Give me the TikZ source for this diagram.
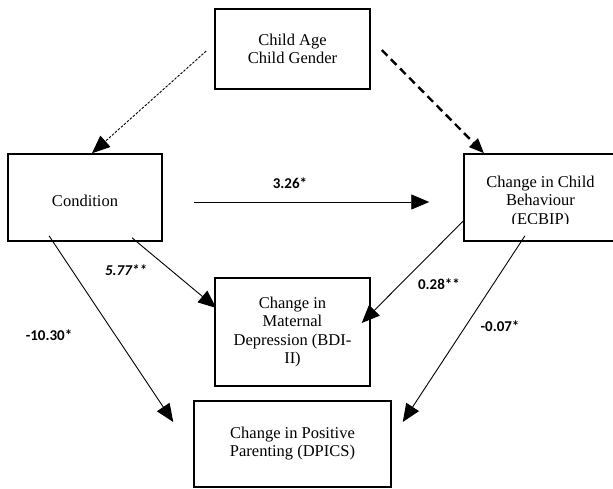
\documentclass[tikz,border=0pt]{standalone}
\usepackage{fontspec}
\setmainfont{Liberation Serif}
\newfontfamily\labfont{Carlito}
\usetikzlibrary{arrows.meta,calc}
\begin{document}
\begin{tikzpicture}[x=1pt,y=-1pt,
  box/.style={draw,line width=1.5pt,rectangle,inner sep=0pt,align=center,
    font=\fontsize{16.5}{18.5}\selectfont},
  conn/.style={line width=0.9pt,-{Triangle[length=18pt,width=15pt]}},
  dotconn/.style={conn,dash pattern=on 2.5pt off 1.5pt},
  dashconn/.style={line width=2.4pt,dash pattern=on 8pt off 5pt,
    -{Triangle[length=15pt,width=12pt]}},
  lab/.style={font=\labfont\bfseries\fontsize{15}{18}\selectfont,inner sep=0pt}]
\useasboundingbox (0,0) rectangle (613,488);
\node[box,minimum width=155pt,minimum height=80pt] (top) at (292.5,49) {Child Age\\Child Gender};
\node[box,minimum width=154pt,minimum height=87pt] (cond) at (85,197.5) {\raisebox{-9pt}[0pt][0pt]{Condition}};
\node[box,minimum width=151pt,minimum height=87pt] (beh) at (539.5,197.5) {};
\begin{scope}
  \clip (464,150) rectangle (613,223);
  \node[align=center,font=\fontsize{16.5}{18.5}\selectfont,inner sep=0pt] (behtext) at (540.5,202) {Change in Child\\Behaviour\\(ECBIP)};
\end{scope}
\node[box,minimum width=155pt,minimum height=108pt] (bdi) at (292.5,332) {Change in\\Maternal\\Depression (BDI-\\II)};
\node[box,minimum width=197pt,minimum height=86pt] (dpics) at (292.5,444) {\raisebox{3pt}{\begin{tabular}{@{}c@{}}Change in Positive\\Parenting (DPICS)\end{tabular}}};
\draw[dotconn] ($(top.west)+(-8,2)$) -- ($(cond.north)+(7,0)$);
\draw[dashconn] ($(top.east)+(11,1)$) -- ($(beh.north)+(-55.5,0)$);
\draw[conn] ($(cond.east)+(31,4.5)$) -- ($(beh.west)+(-34,4.5)$);
\draw[conn] ($(cond.south)+(-36,-6)$) -- ($(dpics.west)+(-20,-22)$);
\draw[conn] ($(cond.south)+(47,-4)$) -- ($(bdi.west)+(2,-24)$);
\draw[conn] ($(beh.west)+(0,23.5)$) -- ($(bdi.east)+(-9,-9)$);
\draw[conn] ($(beh.south)+(-14.5,-6)$) -- ($(dpics.east)+(11,-22)$);
\node[lab] (l1) at (290,183) {3.26*};
\node[lab] (l2) at (126,270) {\itshape 5.77**};
\node[lab] (l3) at (49,335) {-10.30*};
\node[lab] (l4) at (439,284) {0.28**};
\node[lab] (l5) at (500,326) {-0.07*};
\end{tikzpicture}
\end{document}
